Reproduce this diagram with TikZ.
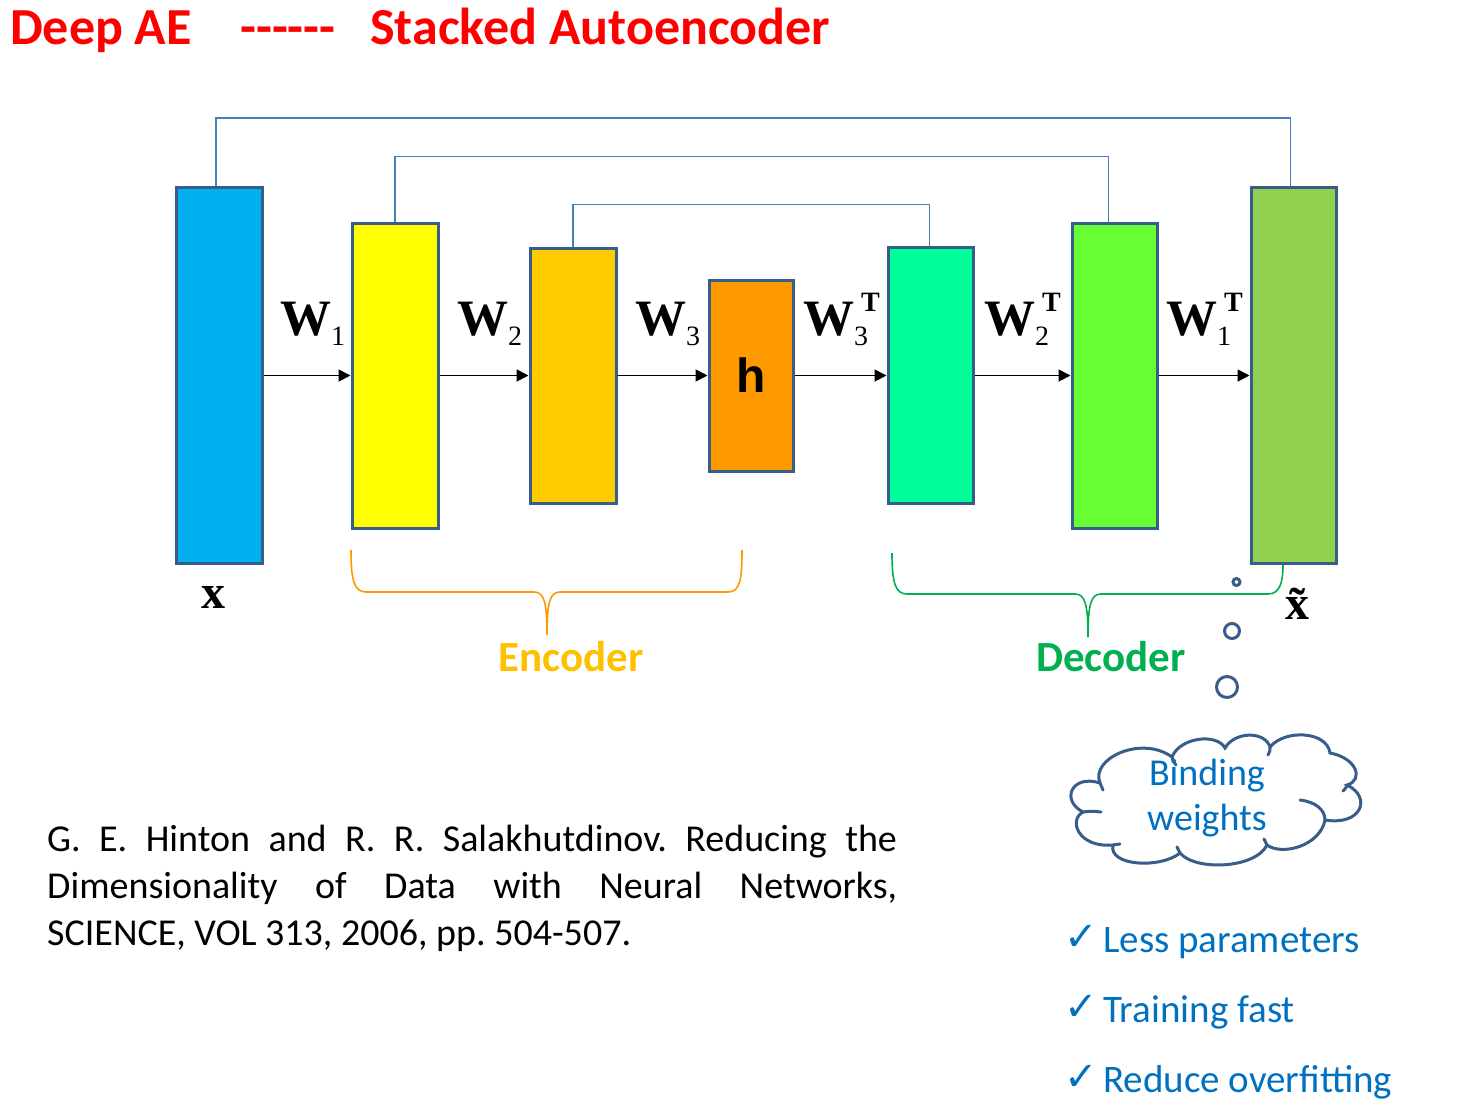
\documentclass[tikz,border=0pt]{standalone}
\usepackage{fontspec}
\setmainfont{Carlito}
\newfontfamily\serif{Liberation Serif}
\newfontfamily\arial{Liberation Sans}
\newfontfamily\dejavu{DejaVu Sans}
\usetikzlibrary{arrows.meta}
\definecolor{bord}{HTML}{385D8A}
\definecolor{skipc}{HTML}{4A7EBB}
\definecolor{c1}{HTML}{00B0F0}
\definecolor{c2}{HTML}{FFFF00}
\definecolor{c3}{HTML}{FFCC00}
\definecolor{c4}{HTML}{FF9900}
\definecolor{c5}{HTML}{00FF99}
\definecolor{c6}{HTML}{66FF33}
\definecolor{c7}{HTML}{92D050}
\definecolor{encc}{HTML}{FFC000}
\definecolor{encbr}{HTML}{FF9900}
\definecolor{decc}{HTML}{00B050}
\definecolor{bluet}{HTML}{0070C0}
\newcommand\wlab[2]{\serif\fontsize{51}{51}\selectfont\textbf{W}\kern0pt\rlap{\kern7pt\raisebox{0.46em}{\fontsize{28}{28}\selectfont\bfseries #2}}\raisebox{-0.2em}{\fontsize{28}{28}\selectfont #1}}
\tikzset{
  layer/.style={draw=bord, line width=3pt, rectangle, inner sep=0pt},
  arr/.style={line width=1.8pt, -{Triangle[length=12pt,width=12pt]}},
  skipline/.style={draw=skipc, line width=1.8pt},
  wl/.style={anchor=base west, inner sep=0pt},
  bubble/.style={draw=bord, line width=3pt, line cap=round},
}
\begin{document}
\frenchspacing
\begin{tikzpicture}[x=1pt,y=-1pt]
\useasboundingbox (0,0) rectangle (1472,1117);
% title
\node[wl, text=red] (t1) at (10,44) {\fontsize{52}{52}\selectfont\bfseries Deep AE};
\node[wl, text=red] (t2) at (240,44) {\fontsize{52}{52}\selectfont\bfseries -{}-{}-{}-{}-{}-};
\node[wl, text=red] (t3) at (370,44) {\fontsize{52}{52}\selectfont\bfseries Stacked Autoencoder};
% layers
\node[layer, fill=c1, minimum width=86, minimum height=376] (b1) at (219,375.5) {};
\node[layer, fill=c2, minimum width=86, minimum height=305] (b2) at (395,375.5) {};
\node[layer, fill=c3, minimum width=86, minimum height=255] (b3) at (573,375.5) {};
\node[layer, fill=c4, minimum width=84, minimum height=191] (b4) at (751,375.5) {\arial\fontsize{48}{48}\selectfont\bfseries h};
\node[layer, fill=c5, minimum width=85, minimum height=256] (b5) at (930.5,375.5) {};
\node[layer, fill=c6, minimum width=85, minimum height=305] (b6) at (1114.5,375.5) {};
\node[layer, fill=c7, minimum width=85, minimum height=376] (b7) at (1293.5,375.5) {};
% arrows
\draw[arr] (b1) -- (b2);
\draw[arr] (b2) -- (b3);
\draw[arr] (b3) -- (b4);
\draw[arr] (b4) -- (b5);
\draw[arr] (b5) -- (b6);
\draw[arr] (b6) -- (b7);
% skip connections
\draw[skipline] ([xshift=-3pt]b1.north) -- ++(0,-68) -| ([xshift=-3pt]b7.north);
\draw[skipline] (b2.north) -- ++(0,-65) -| ([xshift=-6pt]b6.north);
\draw[skipline] (b3.north) -- ++(0,-42) -| ([xshift=-1pt]b5.north);
% weight labels
\node[wl] (w1) at (280,335) {\wlab{1}{}};
\node[wl] (w2) at (457,335) {\wlab{2}{}};
\node[wl] (w3) at (635,335) {\wlab{3}{}};
\node[wl] (w3t) at (803,335) {\wlab{3}{T}};
\node[wl] (w2t) at (984,335) {\wlab{2}{T}};
\node[wl] (w1t) at (1166,335) {\wlab{1}{T}};
% x labels
\node (xin) at (213,597) {\serif\fontsize{48}{48}\selectfont\bfseries x};
\node (xout) at (1297,604) {\serif\fontsize{48}{48}\selectfont\bfseries \~{x}};
% braces
\draw[encbr, line width=1.6pt] (351,550) .. controls (351,580) and (354,592) .. (366,592) -- (534,592) .. controls (544,592) and (547,602) .. (547,635)
  .. controls (547,602) and (550,592) .. (560,592) -- (728,592) .. controls (740,592) and (742,580) .. (742,550);
\draw[decc, line width=1.6pt] (892,553) .. controls (892,582) and (895,594) .. (907,594) -- (1075,594) .. controls (1085,594) and (1088,604) .. (1088,637)
  .. controls (1088,604) and (1091,594) .. (1101,594) -- (1268,594) .. controls (1280,594) and (1283,582) .. (1283,565);
\node[text=encc] (enc) at (571,657) {\fontsize{43}{43}\selectfont\bfseries Encoder};
\node[text=decc] (dec) at (1111,657) {\fontsize{43}{43}\selectfont\bfseries Decoder};
% thought bubbles
\draw[bubble] (1236.5,582) circle (3.5);
\draw[bubble] (1232,631) circle (7.5);
\draw[bubble] (1227,687) circle (10.5);
% cloud outline
\draw[bubble] (1100,783) .. controls (1090,758) and (1142,735) .. (1172,757)
  .. controls (1180,737) and (1217,733) .. (1225,748)
  .. controls (1235,731) and (1265,731) .. (1270,747)
  .. controls (1285,729) and (1327,731) .. (1330,753)
  .. controls (1357,758) and (1364,780) .. (1347,785)
  .. controls (1372,797) and (1362,826) .. (1325,820)
  .. controls (1320,846) and (1282,856) .. (1267,845)
  .. controls (1255,869) and (1195,871) .. (1180,853)
  .. controls (1160,869) and (1108,866) .. (1113,845)
  .. controls (1078,848) and (1068,820) .. (1083,812)
  .. controls (1060,800) and (1072,774) .. (1100,783) -- cycle;
% cloud inner hooks
\draw[bubble] (1100,783) .. controls (1101,787) .. (1103,790);
\draw[bubble] (1172,757) .. controls (1173,761) .. (1176,765);
\draw[bubble] (1270,747) .. controls (1270,751) .. (1268,755);
\draw[bubble] (1347,785) .. controls (1346,788) .. (1343,791);
\draw[bubble] (1300,800) .. controls (1316,802) and (1325,810) .. (1325,820);
\draw[bubble] (1267,845) .. controls (1265,842) .. (1264,839);
\draw[bubble] (1180,853) .. controls (1179,850) .. (1177,847);
\draw[bubble] (1113,845) .. controls (1116,845) .. (1120,844);
\draw[bubble] (1083,812) .. controls (1092,811) .. (1101,812);
\node[text=bluet, align=center, font=\fontsize{38}{45}\selectfont] (cltext) at (1207,798) {Binding\\weights};
% checklist
\node[wl, text=bluet] (k1) at (1064,950) {\dejavu\fontsize{40}{40}\selectfont\bfseries ✓};
\node[wl, text=bluet] (k2) at (1064,1020) {\dejavu\fontsize{40}{40}\selectfont\bfseries ✓};
\node[wl, text=bluet] (k3) at (1064,1090) {\dejavu\fontsize{40}{40}\selectfont\bfseries ✓};
\node[wl, text=bluet] (l1) at (1103,952) {\fontsize{39}{39}\selectfont Less parameters};
\node[wl, text=bluet] (l2) at (1103,1022) {\fontsize{39}{39}\selectfont Training fast};
\node[wl, text=bluet] (l3) at (1103,1092) {\fontsize{39}{39}\selectfont Reduce overfitting};
% citation
\node[wl] (r1) at (47,851) {\fontsize{38}{38}\selectfont\makebox[850pt][s]{G. E. Hinton and R. R. Salakhutdinov. Reducing the}};
\node[wl] (r2) at (47,898) {\fontsize{38}{38}\selectfont\makebox[850pt][s]{Dimensionality of Data with Neural Networks,}};
\node[wl] (r3) at (47,945) {\fontsize{38}{38}\selectfont SCIENCE, VOL 313, 2006, pp. 504-507.};
\end{tikzpicture}
\end{document}
